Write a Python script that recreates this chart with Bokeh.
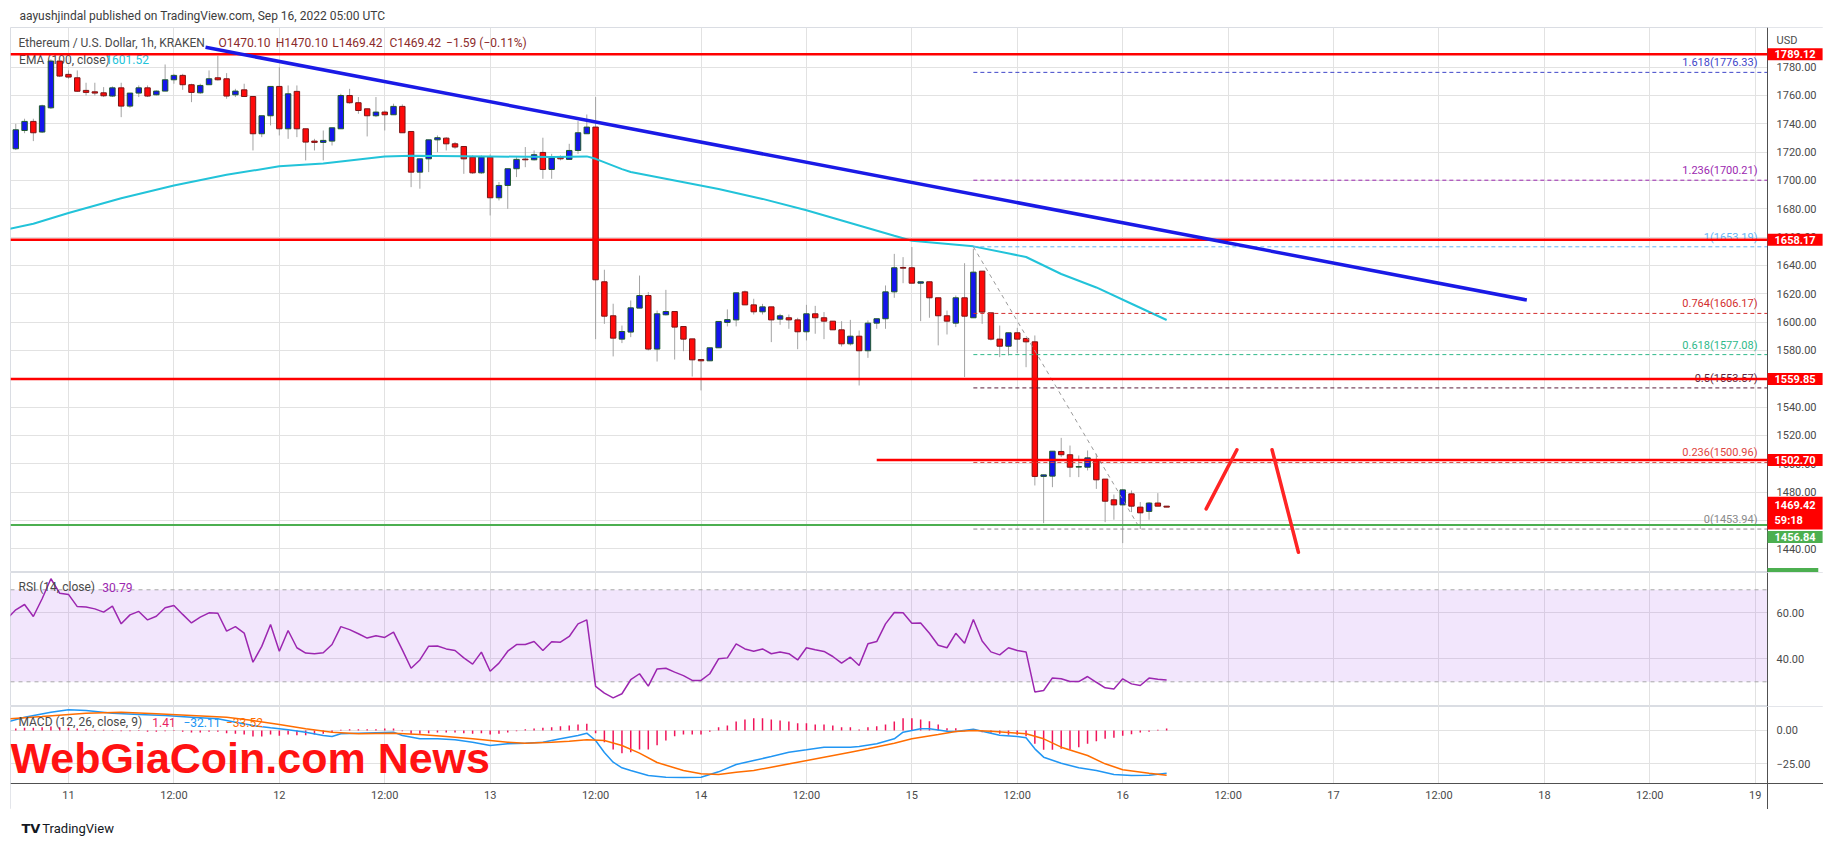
from bokeh.plotting import figure
from bokeh.models import (Range1d, FixedTicker, Label, BoxAnnotation, ColumnDataSource,
                          LinearAxis)
from bokeh.layouts import column
from bokeh.embed import file_html
from bokeh.resources import INLINE
from bokeh.core.properties import value

# ---------------- data (x = hours since 11 Sep 2022 00:00 UTC) ----------------
time_ticks = [0, 12, 24, 36, 48, 60, 72, 84, 96, 108, 120, 132, 144, 156, 168, 180, 192]
time_tick_labels = ["11", "12:00", "12", "12:00", "13", "12:00", "14", "12:00", "15",
                    "12:00", "16", "12:00", "17", "12:00", "18", "12:00", "19"]
price_ticks = [1440, 1460, 1480, 1500, 1520, 1540, 1560, 1580, 1600, 1620, 1640,
               1660, 1680, 1700, 1720, 1740, 1760, 1780]
rsi_ticks = [40, 60]
macd_ticks = [-25, 0]

candle_hours = list(range(-6, 126))
opens = [1722.4, 1735.3, 1741.7, 1734.2, 1751.3, 1784.3,
         1774.9, 1772.5, 1763.6, 1762.6, 1761.9, 1759.6, 1765.4, 1752.5, 1761.7, 1765.4, 1760.5, 1763.1,
         1771.1, 1774.2, 1767.6, 1761.9, 1767.6, 1772.5, 1771.8, 1760.5, 1764.0, 1759.3, 1733.0, 1745.7,
         1766.4, 1736.5, 1762.9, 1736.5, 1727.8, 1726.9, 1727.8, 1736.5, 1760.0, 1754.9, 1750.6, 1745.7,
         1748.3, 1746.4, 1752.3, 1734.6, 1705.9, 1715.3, 1728.7, 1729.9, 1725.9, 1724.0, 1716.5, 1705.4,
         1716.5, 1687.8, 1696.5, 1708.3, 1715.1, 1714.6, 1719.8, 1707.8, 1716.5, 1714.9, 1721.2, 1733.0,
         1737.7, 1628.5, 1604.5, 1588.0, 1593.0, 1609.9, 1618.8, 1581.0, 1605.2, 1607.5, 1596.9, 1588.2,
         1573.6, 1572.7, 1581.9, 1599.8, 1601.6, 1621.4, 1612.2, 1607.3, 1610.8, 1602.1, 1603.1, 1601.6,
         1593.2, 1605.9, 1603.1, 1600.7, 1594.6, 1584.7, 1590.1, 1579.8, 1599.3, 1602.4, 1621.4, 1638.6,
         1638.4, 1627.5, 1628.5, 1617.2, 1604.5, 1599.3, 1617.2, 1603.1, 1636.0, 1606.6, 1588.0, 1583.0,
         1592.5, 1588.5, 1586.1, 1491.1, 1491.3, 1508.7, 1506.4, 1497.7, 1497.6, 1502.8, 1489.2, 1474.6,
         1471.0, 1478.8, 1469.4, 1466.4, 1472.3, 1470.10]
highs = [1740.0, 1743.6, 1743.6, 1753.5, 1785.5, 1785.0,
         1777.7, 1777.7, 1769.0, 1769.0, 1765.9, 1766.4, 1769.0, 1761.7, 1767.1, 1767.1, 1763.6, 1781.9,
         1775.3, 1775.3, 1768.3, 1768.3, 1777.7, 1788.0, 1775.8, 1764.7, 1768.3, 1759.3, 1745.7, 1766.4,
         1780.0, 1767.1, 1767.1, 1736.5, 1729.4, 1735.3, 1737.2, 1761.2, 1764.7, 1758.9, 1750.6, 1758.9,
         1749.4, 1754.2, 1753.7, 1734.6, 1715.3, 1728.7, 1731.8, 1730.6, 1727.1, 1724.0, 1717.7, 1717.7,
         1718.4, 1698.9, 1708.3, 1716.5, 1723.6, 1721.2, 1730.2, 1718.8, 1717.7, 1725.9, 1741.9, 1746.6,
         1758.9, 1637.0, 1613.0, 1597.6, 1615.3, 1632.9, 1621.2, 1608.2, 1622.8, 1607.5, 1596.9, 1588.2,
         1573.6, 1581.9, 1600.5, 1609.0, 1620.7, 1622.3, 1616.5, 1612.9, 1610.8, 1605.9, 1605.4, 1603.1,
         1612.2, 1611.5, 1607.1, 1600.7, 1600.7, 1601.6, 1594.1, 1601.2, 1602.4, 1625.9, 1648.2, 1645.9,
         1653.0, 1628.5, 1628.5, 1617.2, 1608.2, 1618.8, 1641.6, 1651.8, 1636.0, 1606.6, 1597.6, 1592.5,
         1596.0, 1588.5, 1590.6, 1492.2, 1508.9, 1518.3, 1512.9, 1505.9, 1509.4, 1507.1, 1489.2, 1478.3,
         1482.3, 1481.2, 1473.0, 1473.0, 1479.3, 1470.10]
lows = [1721.5, 1733.4, 1727.8, 1733.5, 1750.5, 1773.0,
        1771.8, 1762.5, 1760.0, 1760.0, 1758.9, 1758.9, 1744.7, 1751.3, 1758.9, 1758.9, 1760.0, 1763.1,
        1768.3, 1764.0, 1755.3, 1761.2, 1767.6, 1770.6, 1757.7, 1758.9, 1758.9, 1721.2, 1730.6, 1738.9,
        1731.8, 1729.4, 1730.6, 1714.2, 1721.2, 1714.2, 1724.7, 1736.5, 1754.2, 1747.1, 1731.1, 1744.7,
        1735.3, 1746.4, 1733.7, 1695.3, 1694.2, 1705.9, 1720.0, 1721.2, 1722.4, 1704.7, 1704.7, 1704.7,
        1675.3, 1685.9, 1680.0, 1702.4, 1709.4, 1714.2, 1701.2, 1701.2, 1714.2, 1714.9, 1718.8, 1733.0,
        1588.0, 1598.8, 1575.8, 1585.2, 1589.4, 1609.9, 1580.0, 1572.2, 1604.7, 1573.6, 1579.5, 1561.6,
        1551.8, 1572.5, 1581.9, 1597.0, 1597.0, 1612.2, 1605.4, 1605.4, 1585.9, 1598.1, 1595.3, 1580.9,
        1587.1, 1591.8, 1588.0, 1594.6, 1582.8, 1583.5, 1555.3, 1574.8, 1595.3, 1595.3, 1617.2, 1627.5,
        1627.5, 1600.7, 1603.1, 1583.6, 1591.3, 1596.5, 1561.2, 1603.1, 1598.8, 1587.1, 1575.3, 1576.5,
        1578.2, 1568.2, 1484.7, 1458.1, 1483.5, 1504.7, 1490.6, 1490.6, 1495.3, 1482.3, 1458.8, 1460.5,
        1444.0, 1465.9, 1453.9, 1460.5, 1470.1, 1469.42]
closes = [1735.8, 1741.7, 1733.7, 1752.7, 1784.3, 1773.7,
          1773.0, 1763.0, 1762.2, 1761.7, 1759.8, 1765.4, 1752.5, 1761.7, 1765.4, 1759.6, 1763.1, 1771.1,
          1774.2, 1767.6, 1762.2, 1767.1, 1771.8, 1771.1, 1759.6, 1763.1, 1759.3, 1733.0, 1745.7, 1766.4,
          1736.5, 1761.2, 1736.5, 1727.1, 1726.9, 1728.3, 1737.2, 1760.0, 1754.9, 1749.4, 1745.7, 1748.3,
          1746.4, 1752.3, 1733.7, 1705.9, 1715.3, 1728.7, 1730.2, 1725.9, 1723.6, 1715.3, 1705.4, 1716.5,
          1687.8, 1696.5, 1708.3, 1714.9, 1714.6, 1718.2, 1707.8, 1716.0, 1715.3, 1721.2, 1733.7, 1737.7,
          1629.9, 1604.2, 1588.7, 1593.4, 1610.1, 1618.8, 1581.0, 1605.9, 1607.5, 1596.5, 1588.0, 1573.4,
          1572.7, 1581.9, 1600.5, 1601.8, 1620.7, 1612.2, 1607.3, 1610.8, 1601.6, 1604.5, 1601.6, 1593.2,
          1605.9, 1603.1, 1600.7, 1594.6, 1584.7, 1590.1, 1579.8, 1599.3, 1602.4, 1621.4, 1638.4, 1638.1,
          1627.5, 1628.5, 1617.2, 1604.5, 1600.7, 1617.2, 1604.2, 1635.3, 1607.1, 1588.0, 1583.0, 1592.5,
          1588.0, 1586.1, 1491.1, 1492.2, 1508.9, 1506.4, 1497.6, 1498.0, 1504.2, 1488.7, 1473.6, 1471.0,
          1481.6, 1470.1, 1465.4, 1472.3, 1470.1, 1469.42]

ema_hours = [-7, -4, 0, 6, 12, 18, 24, 29, 36, 39, 48, 55, 59, 60, 63, 64, 69, 74, 79, 84,
             89, 94, 96, 103, 109, 113, 117, 121, 125]
ema_values = [1665.5, 1669.5, 1677.0, 1687.5, 1696.5, 1704.0, 1710.0, 1712.0, 1717.0, 1717.5,
              1717.0, 1716.5, 1717.0, 1715.3, 1708.0, 1706.0, 1700.0, 1694.0, 1687.0, 1679.0,
              1670.0, 1661.0, 1657.5, 1653.5, 1646.0, 1634.0, 1624.5, 1613.0, 1601.52]

rsi_hours = list(range(-7, 126))
rsi_values = [57.4, 61.3, 63.6, 58.4, 66.1, 74.8, 68.5,
              68.0, 62.7, 62.5, 61.7, 60.3, 62.9, 55.2, 59.1, 60.6, 56.9, 58.5, 62.2,
              63.2, 59.3, 55.6, 58.1, 60.0, 59.8, 52.0, 54.0, 51.2, 38.5, 45.4, 54.9,
              43.3, 52.3, 44.8, 42.5, 42.2, 42.6, 46.2, 54.0, 52.7, 50.9, 49.0, 50.0,
              49.3, 51.6, 43.9, 35.9, 39.5, 45.5, 45.6, 44.3, 43.6, 40.4, 37.7, 42.9,
              34.6, 38.1, 43.3, 46.2, 46.2, 47.5, 43.6, 47.4,
              47.2, 49.7, 55.2, 56.9,
              28.0, 25.1, 23.0, 24.8, 30.9, 33.5, 28.1, 35.6, 35.9, 34.2,
              32.7, 30.6, 30.6, 33.5, 40.0, 40.4, 46.5, 44.3, 43.3, 44.3,
              42.2, 43.0, 42.2, 39.5, 44.8, 43.9, 43.2, 41.0, 38.1, 40.7,
              37.1, 46.5, 47.5, 55.2, 60.1, 60.0, 55.5, 55.6, 51.1, 45.9,
              44.8, 51.1, 46.8, 57.1, 47.7, 43.0, 41.7, 44.8, 43.6, 43.0,
              25.6, 26.2, 31.7, 31.3, 30.1, 30.1, 32.3, 29.8, 27.4, 26.9,
              31.3, 29.1, 28.4, 31.6, 31.1, 30.79]

hist_hours = list(range(-7, 126))
hist_values = [1.0, 1.5, 2.0, 2.0, 2.5, 3.0, 2.5,
               2.0, 1.5, 1.0, 0.5, 0.5, 0.3, -0.5, -0.5, -0.3, -1.0, -1.0, -0.5,
               -0.3, -1.0, -1.5, -1.5, -1.0, -1.0, -2.0, -2.5, -3.0, -4.5, -4.5, -3.0,
               -4.0, -3.0, -3.5, -3.5, -3.0, -2.5, -1.5, 0.5, 1.0, 1.0, 1.0, 1.0,
               1.5, 1.5, -0.5, -2.5, -2.5, -2.0, -1.5, -1.5, -1.5, -2.0, -2.5, -2.0,
               -3.0, -2.5, -1.5, -0.5, 1.0, 1.5, 2.0, 2.5,
               3.25, 3.75, 4.5, 5.0,
               -2.0, -8.75, -14.25, -17.0, -16.25, -14.25, -14.25, -11.0, -7.5, -4.25,
               -3.0, -3.0, -3.0, -1.0, 2.5, 3.75, 6.75, 8.25, 9.25, 9.25,
               8.25, 7.5, 6.75, 5.5, 5.5, 4.5, 4.5, 3.75, 2.5, 2.5,
               0.75, 2.5, 3.25, 4.5, 6.75, 9.25, 9.25, 8.25, 7.0, 4.5,
               1.75, 1.75, -0.5, 0.5, -1.25, -1.75, -2.5, -3.25, -3.25, -4.25,
               -10.0, -14.5, -14.5, -13.75, -14.25, -12.5, -10.0, -8.0, -6.25, -5.5,
               -4.0, -2.75, -1.5, -1.0, 0.5, 1.41]

macd_hours = [-7, -5, -2, 0, 2, 5, 8, 11, 14, 17, 19, 21, 23, 25, 27, 29, 30, 31, 33, 37,
              38, 40, 42, 44, 46, 48, 50, 52, 54, 56, 58, 59, 60, 61, 62, 63, 64, 66, 68, 70,
              72, 74, 76, 78, 80, 82, 84, 86, 89, 90, 92, 94, 95, 97, 98, 100, 101, 103, 104,
              106, 108, 109, 110, 111, 113, 115, 117, 119, 121, 123, 125]
macd_values = [6.25, 10.0, 13.75, 15.5, 15.0, 13.0, 12.0, 11.25, 10.0, 8.75, 6.25, 3.75, 2.0,
               0.5, -1.25, -3.75, -4.5, -2.5, -2.0, -1.25, -3.75, -6.25, -6.25, -7.0, -8.75,
               -11.25, -10.0, -9.5, -8.75, -6.25, -3.75, -2.0, -7.5, -16.5, -23.75, -28.0,
               -30.0, -33.8, -35.0, -35.3, -35.0, -31.0, -25.5, -22.5, -19.5, -16.25, -14.5,
               -12.5, -12.5, -12.0, -10.0, -6.25, -1.25, 1.25, 1.25, -0.5, -0.75, 1.0, -0.5,
               -3.5, -4.5, -5.5, -13.75, -20.0, -24.5, -28.0, -30.0, -33.0, -33.8, -33.5, -32.11]
signal_hours = [-7, -3, 2, 6, 10, 14, 18, 21, 24, 27, 30, 33, 37, 40, 43, 46, 48, 50, 52, 55,
                57, 59, 61, 63, 65, 67, 70, 72, 74, 76, 78, 80, 83, 86, 89, 91, 94, 96, 99,
                101, 103, 105, 107, 109, 111, 113, 116, 118, 120, 123, 125]
signal_values = [8.75, 10.5, 13.0, 13.75, 12.5, 11.25, 10.0, 7.5, 4.5, 1.25, -1.25, -2.5, -2.0,
                 -3.0, -4.5, -6.25, -7.5, -8.75, -9.5, -8.75, -8.0, -7.0, -7.5, -11.25, -17.0,
                 -24.0, -30.0, -32.5, -33.0, -31.3, -30.0, -27.5, -23.75, -20.0, -16.25,
                 -13.75, -9.5, -6.25, -3.0, -0.75, 0.0, -0.5, -1.5, -2.5, -6.25, -12.5, -18.75,
                 -25.0, -29.5, -32.0, -33.52]

# drawings
red_levels = [1789.12, 1658.17, 1559.85, 1502.70]
red_level_starts = [-6.6, -6.6, -6.6, 92.0]
red_level_labels = ["1789.12", "1658.17", "1559.85", "1502.70"]
green_level = 1456.84
last_price = 1469.42
countdown = "59:18"
trend_hours = [15.6, 166.0]
trend_prices = [1794.0, 1615.6]
fib_ratios = ["1.618", "1.236", "1", "0.764", "0.618", "0.5", "0.236", "0"]
fib_prices = [1776.33, 1700.21, 1653.19, 1606.17, 1577.08, 1553.57, 1500.96, 1453.94]
fib_colors = ["#3f46c9", "#9c27b0", "#64b5f6", "#d32f2f", "#2fb98a", "#5a1f3c", "#e0453f", "#8a8a8a"]
fib_start = 103.0
fib_base_hours = [103, 122]
fib_base_prices = [1653.19, 1453.94]
arrow_up_hours = [129.5, 133.0]
arrow_up_prices = [1468.2, 1509.9]
arrow_down_hours = [137.0, 140.0]
arrow_down_prices = [1509.9, 1437.6]

# ---------------- style ----------------
W = 1823
X0 = -6.6            # left edge of the chart area
X1 = 193.4           # price-scale line
XE = 199.77          # right edge of the chart frame
MACD_LO = -39.75     # bottom of the MACD pane (time-axis line)
FONT = "Roboto"
TXT = "#4a4a4a"
GRID = "#e2e2e2"
AXIS = "#505050"

xr = Range1d(X0, XE)


def make_pane(height, ylo, yhi, ticks, labels, strip_below=None):
    p = figure(width=W, height=height, x_range=xr, y_range=Range1d(ylo, yhi),
               output_backend="svg", toolbar_location=None,
               y_axis_location=None, x_axis_location=None,
               min_border_left=10, min_border_right=0, min_border_top=0, min_border_bottom=0)
    p.background_fill_color = "white"
    p.border_fill_color = "white"
    p.outline_line_color = "#dadde3"
    p.xgrid.ticker = FixedTicker(ticks=time_ticks)
    p.xgrid.grid_line_color = GRID
    p.ygrid.ticker = FixedTicker(ticks=ticks)
    p.ygrid.grid_line_color = GRID
    # blank out the price-scale strip (and time strip) behind the grid
    p.add_layout(BoxAnnotation(left=X1, fill_color="white", fill_alpha=1.0,
                               line_color=None, level="underlay"))
    if strip_below is not None:
        p.add_layout(BoxAnnotation(top=strip_below, fill_color="white", fill_alpha=1.0,
                                   line_color=None, level="underlay"))
    ax = LinearAxis(fixed_location=X1, ticker=FixedTicker(ticks=ticks),
                    major_label_overrides=dict(zip(ticks, labels)))
    ax.axis_line_color = AXIS
    ax.major_tick_line_color = None
    ax.minor_tick_line_color = None
    ax.major_tick_out = 0
    ax.major_tick_in = 0
    ax.major_label_standoff = 9
    ax.major_label_text_font = FONT
    ax.major_label_text_font_size = "11px"
    ax.major_label_text_color = TXT
    p.add_layout(ax, "right")
    return p


def legend(p, x, y, text, color, size="12px"):
    p.add_layout(Label(x=x, y=y, x_units="screen", y_units="screen", text=text,
                       text_color=color, text_font=FONT, text_font_size=size,
                       text_baseline="middle", text_align="left"))


def axis_box(p, y, text, color, y_offset=0, padding=(7, 2)):
    p.add_layout(Label(x=X1, y=y, x_units="data", y_units="data", text=text,
                       text_color="white", text_font=FONT, text_font_size="11px",
                       text_font_style="bold", text_align="left", text_baseline="middle",
                       background_fill_color=color, padding=padding, y_offset=y_offset,
                       x_offset=0))


# ---------------- header ----------------
hdr = figure(width=W, height=27, x_range=Range1d(0, W), y_range=Range1d(0, 27),
             output_backend="svg", toolbar_location=None, x_axis_location=None,
             y_axis_location=None, min_border=0, outline_line_color=None)
hdr.grid.visible = False
hdr.text(x=[9], y=[12], text=["aayushjindal published on TradingView.com, Sep 16, 2022 05:00 UTC"],
         text_font=value(FONT), text_font_size="12px", text_color="#3c3c3c",
         text_baseline="middle")

# ---------------- price pane ----------------
pp = make_pane(545, 1423.27, 1808.0, price_ticks, [f"{t:.2f}" for t in price_ticks])

# EMA legend sits underneath the candles in the original
pp.text(x=[-5.62], y=[1785.4], text=["EMA (100, close)"], text_font=value(FONT),
        text_font_size="12px", text_color=TXT, text_baseline="middle")
pp.text(x=[4.2], y=[1785.4], text=["1601.52"], text_font=value(FONT),
        text_font_size="12px", text_color="#22c3d9", text_baseline="middle")

up = [c >= o for o, c in zip(opens, closes)]
src = ColumnDataSource(dict(
    h=candle_hours, lo=lows, hi=highs,
    top=[max(o, c) for o, c in zip(opens, closes)],
    bot=[min(o, c) for o, c in zip(opens, closes)],
    fill=["#1414ee" if u else "#ff0a0a" for u in up],
    edge=["#1f5a2c" if u else "#7a1515" for u in up],
))
pp.segment(x0="h", y0="lo", x1="h", y1="hi", source=src, line_color="#a3a3a3", line_width=1)
pp.vbar(x="h", width=0.62, top="top", bottom="bot", source=src,
        fill_color="fill", line_color="edge", line_width=1)

pp.line(ema_hours, ema_values, line_color="#22c3d9", line_width=2)

n = len(fib_prices)
pp.segment(x0=[fib_start] * n, x1=[X1] * n, y0=fib_prices, y1=fib_prices,
           line_color=fib_colors, line_width=1, line_dash="4 3")
pp.text(x=[X1 - 10 / 8.785] * n, y=fib_prices,
        text=[f"{r}({v:.2f})" for r, v in zip(fib_ratios, fib_prices)],
        text_color=fib_colors, text_font=value(FONT), text_font_size="11px",
        text_align="right", text_baseline="bottom", y_offset=-3)
pp.line(fib_base_hours, fib_base_prices, line_color="#9a9a9a", line_width=1, line_dash="4 4")

pp.segment(x0=red_level_starts, x1=[X1] * len(red_levels), y0=red_levels, y1=red_levels,
           line_color="#ff0000", line_width=2.5)
pp.segment(x0=[X0], x1=[X1], y0=[green_level], y1=[green_level],
           line_color="#4caf50", line_width=2)

pp.line(trend_hours, trend_prices, line_color="#1a1ae6", line_width=3.5)
pp.line(arrow_up_hours, arrow_up_prices, line_color="#ff2424", line_width=3.5, line_cap="round")
pp.line(arrow_down_hours, arrow_down_prices, line_color="#ff2424", line_width=3.5, line_cap="round")

legend(pp, 8, 545 - 15.3, "Ethereum / U.S. Dollar, 1h, KRAKEN", TXT)
for xx, t in [(208, "O1470.10"), (265.3, "H1470.10"), (321.8, "L1469.42"), (379, "C1469.42"),
              (435.6, "\u22121.59 (\u22120.11%)")]:
    legend(pp, xx, 545 - 15.3, t, "#8c2b2b")
legend(pp, 1766, 545 - 13, "USD", TXT, size="11px")

for lvl, txt in zip(red_levels, red_level_labels):
    axis_box(pp, lvl, txt, "#ff0000")
axis_box(pp, last_price, f"{last_price:.2f}\n{countdown}", "#ff0000", y_offset=-6)
axis_box(pp, green_level, f"{green_level:.2f}", "#4caf50", y_offset=-12)
# partly hidden marker at the very bottom of the price scale
axis_box(pp, 1423.27, " ", "#4caf50", y_offset=-8, padding=(24, 6))

# ---------------- RSI pane ----------------
pr = make_pane(134, 19.26, 77.52, rsi_ticks, ["40.00", "60.00"])
pr.add_layout(BoxAnnotation(bottom=30, top=70, right=X1, fill_color="#a858eb", fill_alpha=0.15,
                            line_color=None, level="underlay"))
pr.segment(x0=[X0, X0], x1=[X1, X1], y0=[30, 70], y1=[30, 70], line_color="#a8a8a8",
           line_width=1, line_dash="4 4")
pr.line(rsi_hours, rsi_values, line_color="#9c27b0", line_width=1.5)
legend(pr, 8, 134 - 14.7, "RSI (14, close)", TXT)
legend(pr, 91.8, 134 - 14.7, "30.79", "#9c27b0")

# ---------------- MACD pane (with the time scale strip below it) ----------------
pm = make_pane(103, MACD_LO - 26 / 1.3333, 18.0, macd_ticks, ["\u221225.00", "0.00"],
               strip_below=MACD_LO)
xa = LinearAxis(fixed_location=MACD_LO, ticker=FixedTicker(ticks=time_ticks),
                major_label_overrides=dict(zip(time_ticks, time_tick_labels)))
xa.axis_line_color = AXIS
xa.major_tick_line_color = None
xa.minor_tick_line_color = None
xa.major_tick_out = 0
xa.major_tick_in = 0
xa.major_label_standoff = 6
xa.major_label_text_font = FONT
xa.major_label_text_font_size = "11px"
xa.major_label_text_color = TXT
pm.add_layout(xa, "below")

pm.segment(x0=hist_hours, x1=hist_hours, y0=[0] * len(hist_hours), y1=hist_values,
           line_color="#f0145a", line_width=1.5)
pm.line(macd_hours, macd_values, line_color="#2196f3", line_width=1.5)
pm.line(signal_hours, signal_values, line_color="#ff6d00", line_width=1.5)
legend(pm, 8, 103 - 15.7, "MACD (12, 26, close, 9)", TXT)
legend(pm, 141.8, 103 - 15.7, "1.41", "#e91e63")
legend(pm, 173, 103 - 15.7, "\u221232.11", "#2196f3")
legend(pm, 215.4, 103 - 15.7, "\u221233.52", "#ff6d00")
pm.add_layout(Label(x=0, y=51.5, x_units="screen", y_units="screen", text="WebGiaCoin.com News",
                    text_color="#ff1212", text_font="Liberation Sans",
                    text_font_size="43px", text_font_style="bold", text_baseline="middle"))

# ---------------- footer ----------------
ftr = figure(width=W, height=35, x_range=Range1d(0, W), y_range=Range1d(0, 35),
             output_backend="svg", toolbar_location=None, x_axis_location=None,
             y_axis_location=None, min_border=0, outline_line_color=None)
ftr.grid.visible = False
ftr.text(x=[11], y=[16], text=["TV"], text_font=value("DejaVu Sans"), text_font_size="13px",
         text_font_style="bold", text_color="#131722", text_baseline="middle")
ftr.text(x=[32], y=[16], text=["TradingView"], text_font=value(FONT), text_font_size="13px",
         text_color="#131722", text_baseline="middle")

layout = column(hdr, pp, pr, pm, ftr, spacing=0)
open("out.html", "w").write(file_html(layout, INLINE))
